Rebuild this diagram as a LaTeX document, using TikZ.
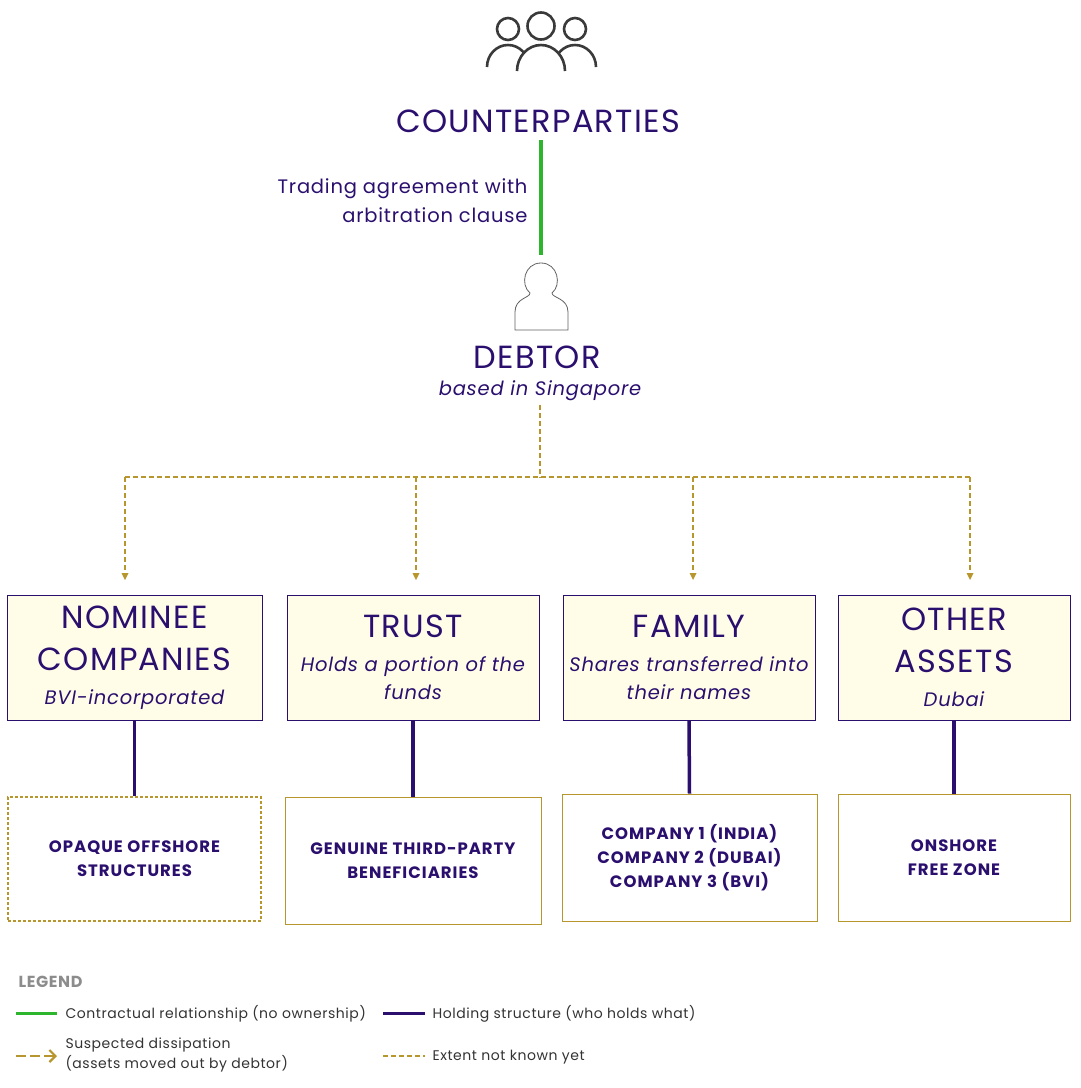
\documentclass[tikz,border=0pt]{standalone}
\usepackage{fontspec}
\usetikzlibrary{arrows.meta}
\setmainfont{Poppins}[LetterSpace=4]
\begin{document}
\definecolor{pur}{HTML}{2A0F6E}
\definecolor{gold}{HTML}{B8962E}
\definecolor{grn}{HTML}{2DB52D}
\definecolor{boxf}{HTML}{FFFDE8}
\definecolor{icon}{HTML}{3A3A3A}
\newcommand{\subit}[1]{{\fontsize{19.5}{20}\selectfont\itshape #1}}
\begin{tikzpicture}[x=1pt,y=-1pt,
  box/.style={draw=pur,line width=0.7pt,fill=boxf,minimum height=125pt,align=center,text=pur,inner sep=2pt},
  sub/.style={draw=gold,line width=0.7pt,fill=white,align=center,text=pur,font=\fontsize{16.5}{24}\selectfont\bfseries\addfontfeatures{LetterSpace=6}},
  hold/.style={draw=pur,line width=3.5pt},
  diss/.style={draw=gold,line width=1.3pt,dash pattern=on 5pt off 3pt},
  ttl/.style={font=\fontsize{32}{40}\selectfont},
  it/.style={font=\fontsize{19.5}{28}\selectfont\itshape},
  leg/.style={font=\fontsize{14}{16}\selectfont,text=black!80,anchor=west,align=left}]
\useasboundingbox (0,0) rectangle (1080,1088);
% people icon
\begin{scope}[draw=icon,line width=2.6pt]
\draw (508,29) circle (11);
\draw (575,29) circle (11);
\draw (541,26) circle (13.5);
\draw (487,67) arc (180:360:21 and 22);
\draw (554,67) arc (180:360:21 and 22);
\draw[fill=white] (517,71) arc (180:360:24 and 26);
\end{scope}
\node[text=pur,ttl] (cp) at (538,121) {COUNTERPARTIES};
\node[text=pur,font=\fontsize{19.5}{29}\selectfont,align=right,anchor=east] (ta) at (531,201) {Trading agreement with\\arbitration clause};
% debtor icon
\draw[icon!80,line width=0.8pt] (530,293) .. controls (520,285) and (524,263) .. (541,263) .. controls (558,263) and (562,285) .. (552,293) .. controls (552,298) and (568,298) .. (568,312) -- (568,330) -- (515,330) -- (515,312) .. controls (515,298) and (530,298) .. (530,293);
\coordinate (dtop) at (541,255);
\draw[grn,line width=3.5pt] (541,140) -- (dtop);
\node[text=pur,ttl] (deb) at (537,357) {DEBTOR};
\node[text=pur,it] (sg) at (540,391) {based in Singapore};
% boxes
\node[box,minimum width=255pt,font=\fontsize{32}{42}\selectfont] (b1) at (134.5,657.5) {NOMINEE\\COMPANIES\\[-8pt]\subit{BVI-incorporated}};
\node[box,minimum width=252pt,font=\fontsize{32}{34}\selectfont] (b2) at (413,657.5) {TRUST\\\subit{Holds a portion of the}\\[-6pt]\subit{funds}};
\node[box,minimum width=252pt,font=\fontsize{32}{34}\selectfont] (b3) at (689,657.5) {FAMILY\\\subit{Shares transferred into}\\[-6pt]\subit{their names}};
\node[box,minimum width=232pt,font=\fontsize{32}{42}\selectfont] (b4) at (954,657.5) {OTHER\\ASSETS\\[-8pt]\subit{Dubai}};
\node[sub,draw=gold,line width=2.5pt,dash pattern=on 3pt off 2pt,minimum width=253pt,minimum height=124pt] (s1) at (134.5,859) {OPAQUE OFFSHORE\\STRUCTURES};
\node[sub,minimum width=256pt,minimum height=127pt] (s2) at (413,860.5) {GENUINE THIRD-PARTY\\BENEFICIARIES};
\node[sub,minimum width=255pt,minimum height=127pt] (s3) at (689.5,857.5) {COMPANY 1 (INDIA)\\COMPANY 2 (DUBAI)\\COMPANY 3 (BVI)};
\node[sub,minimum width=232pt,minimum height=127pt] (s4) at (954,857.5) {ONSHORE\\FREE ZONE};
\draw[hold] (b1.south) -- (s1.north);
\draw[hold] (b2.south) -- (s2.north);
\draw[hold] (b3.south) -- (s3.north);
\draw[hold] (b4.south) -- (s4.north);
% dissipation
\coordinate (j) at (540,477);
\draw[diss] (sg.south -| j) -- (j);
\draw[diss] (125,477) -- (970,477);
\foreach \x/\b in {125/b1,416/b2,693/b3,970/b4}{
  \draw[diss] (\x,477) -- (\x,572);
  \fill[gold] (\x-3.5,573) -- (\x+3.5,573) -- (\x,580) -- cycle;
}
% legend
\node[anchor=west,text=black!45,font=\fontsize{16}{18}\selectfont\bfseries] (lg) at (15,982) {LEGEND};
\coordinate (l1a) at (16,1013); \coordinate (l1b) at (57,1013);
\draw[grn,line width=3pt] (l1a) -- (l1b);
\node[leg] (t1) at (62,1014) {Contractual relationship (no ownership)};
\coordinate (l2a) at (383,1013); \coordinate (l2b) at (425,1013);
\draw[pur,line width=3pt] (l2a) -- (l2b);
\node[leg] (t2) at (429,1014) {Holding structure (who holds what)};
\coordinate (l3a) at (16,1056); \coordinate (l3b) at (57,1056);
\draw[gold,line width=2.2pt,dash pattern=on 10pt off 4pt,-{Straight Barb[length=6pt]}] (l3a) -- (l3b);
\node[leg,font=\fontsize{14}{20}\selectfont] (t3) at (62,1055) {Suspected dissipation\\(assets moved out by debtor)};
\coordinate (l4a) at (383,1056); \coordinate (l4b) at (425,1056);
\draw[gold,line width=2.2pt,dash pattern=on 5pt off 3pt] (l4a) -- (l4b);
\node[leg] (t4) at (429,1057) {Extent not known yet};
\end{tikzpicture}
\end{document}
